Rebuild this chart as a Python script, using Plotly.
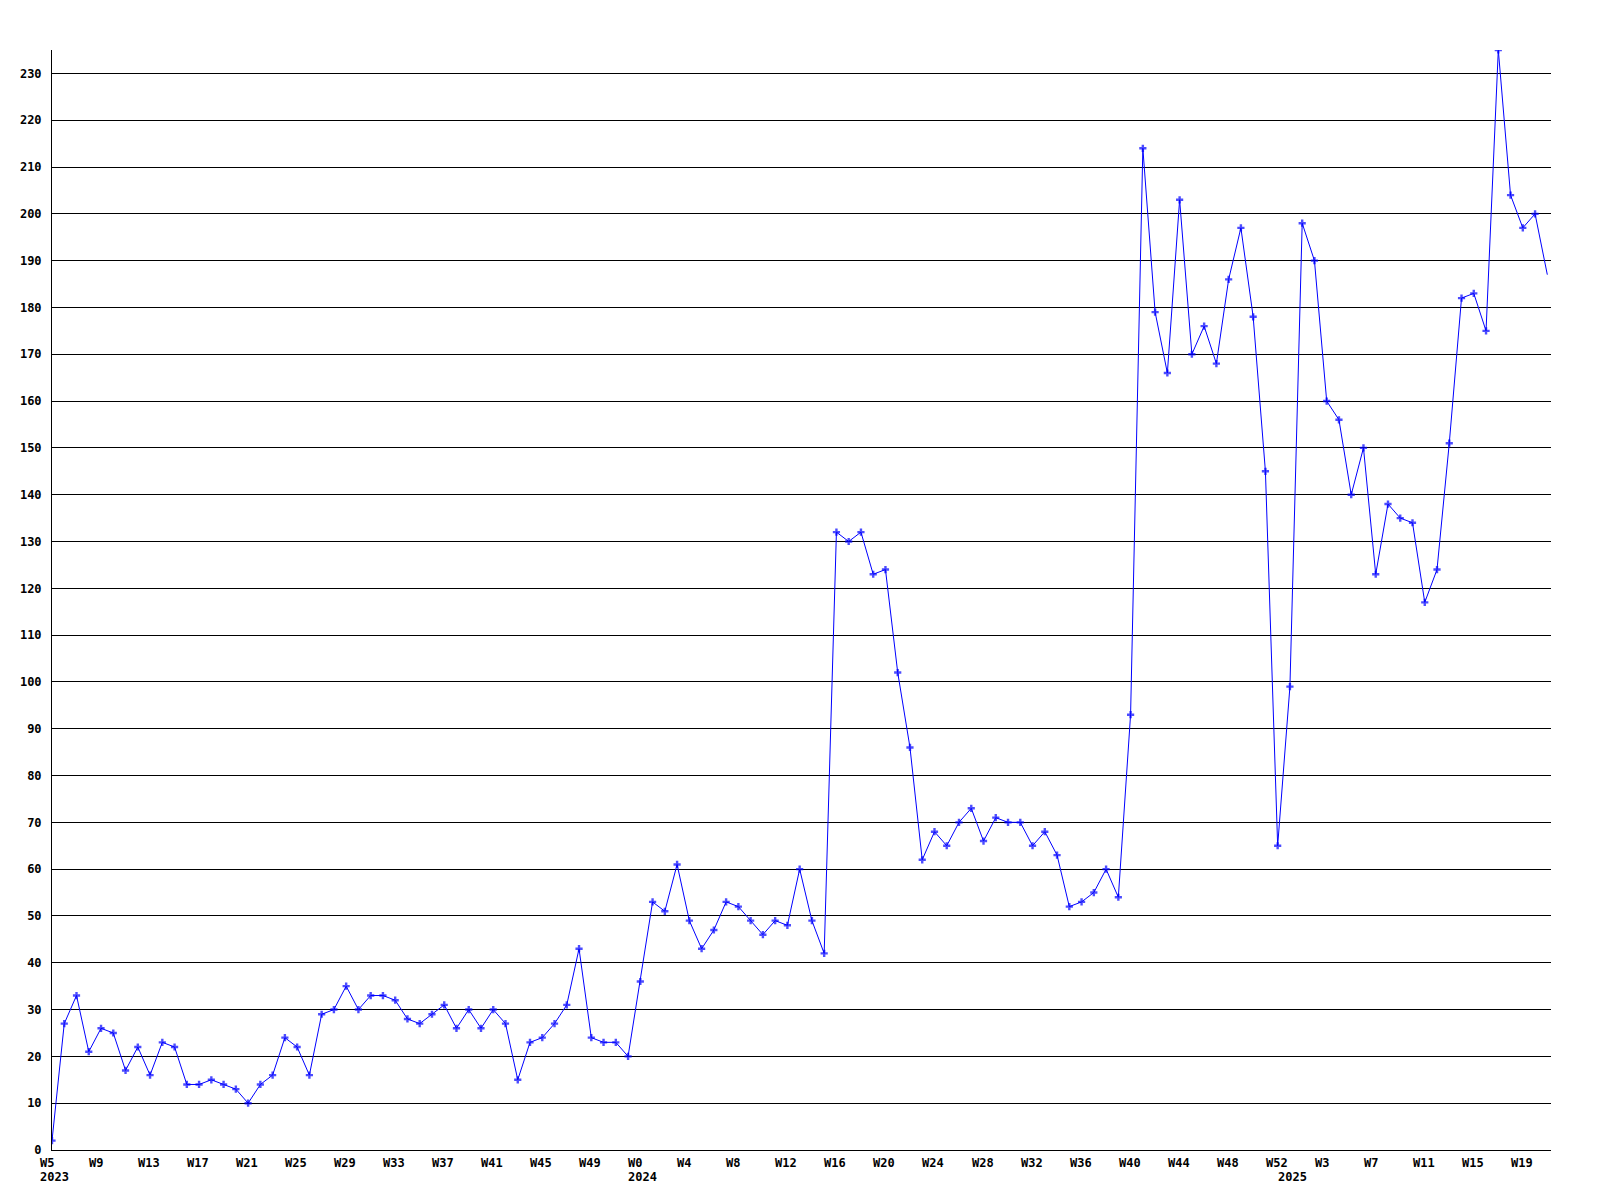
import plotly.graph_objects as go

# Weekly values, 2023 W5 .. 2025 W21 (last point sits on the right edge)
values_2023 = [2, 27, 33, 21, 26, 25, 17, 22, 16, 23, 22, 14, 14, 15, 14, 13, 10, 14, 16, 24,
               22, 16, 29, 30, 35, 30, 33, 33, 32, 28, 27, 29, 31, 26, 30, 26, 30, 27, 15, 23,
               24, 27, 31, 43, 24, 23, 23, 20]
values_2024 = [36, 53, 51, 61, 49, 43, 47, 53, 52, 49, 46, 49, 48, 60, 49, 42, 132, 130, 132, 123,
               124, 102, 86, 62, 68, 65, 70, 73, 66, 71, 70, 70, 65, 68, 63, 52, 53, 55, 60, 54,
               93, 214, 179, 166, 203, 170, 176, 168, 186, 197, 178, 145, 65]
values_2025 = [99, 198, 190, 160, 156, 140, 150, 123, 138, 135, 134, 117, 124, 151, 182, 183, 175,
               235, 204, 197, 200, 187]

week_labels = ["W5", "W9", "W13", "W17", "W21", "W25", "W29", "W33", "W37", "W41", "W45", "W49",
               "W0", "W4", "W8", "W12", "W16", "W20", "W24", "W28", "W32", "W36", "W40", "W44",
               "W48", "W52", "W3", "W7", "W11", "W15", "W19"]
year_labels = ["2023", "2024", "2025"]
y_ticks = list(range(0, 240, 10))

values = values_2023 + values_2024 + values_2025
x = list(range(len(values)))
week_pos = list(range(0, len(week_labels) * 4, 4))
year_pos = [0, len(values_2023), len(values_2023) + len(values_2024)]

marker_sizes = [6] * len(values)
marker_sizes[-1] = 0

fig = go.Figure()
fig.add_trace(go.Scatter(
    x=x, y=values, mode="lines+markers",
    line=dict(color="#0000ff", width=1),
    marker=dict(symbol="cross", size=marker_sizes, color="#0000ff", line=dict(width=0)),
    hoverinfo="x+y", showlegend=False,
))

font = dict(family="DejaVu Sans Mono", size=12, color="#000000", weight="bold")

annotations = []
for pos, lab in zip(week_pos, week_labels):
    annotations.append(dict(x=pos, y=0, xref="x", yref="paper", text=lab, showarrow=False,
                            xanchor="left", yanchor="top", xshift=-13, yshift=-5,
                            font=font, borderpad=0))
for pos, lab in zip(year_pos, year_labels):
    annotations.append(dict(x=pos, y=0, xref="x", yref="paper", text=lab, showarrow=False,
                            xanchor="left", yanchor="top", xshift=-13, yshift=-19,
                            font=font, borderpad=0))

fig.update_layout(
    width=1600, height=1200,
    margin=dict(l=42, r=57, t=42, b=58),
    paper_bgcolor="#ffffff", plot_bgcolor="#ffffff",
    annotations=annotations,
    xaxis=dict(range=[0, 122.3], showgrid=False, zeroline=False, showticklabels=False,
               showline=True, linecolor="#000000", linewidth=1, fixedrange=True),
    yaxis=dict(range=[0, 235], tickvals=y_ticks, ticktext=[str(v) for v in y_ticks],
               showgrid=True, gridcolor="#000000", gridwidth=1, zeroline=False,
               showline=True, linecolor="#000000", linewidth=1,
               ticks="", ticklabelstandoff=7, tickfont=font, fixedrange=True),
)

fig.write_html("out.html")
